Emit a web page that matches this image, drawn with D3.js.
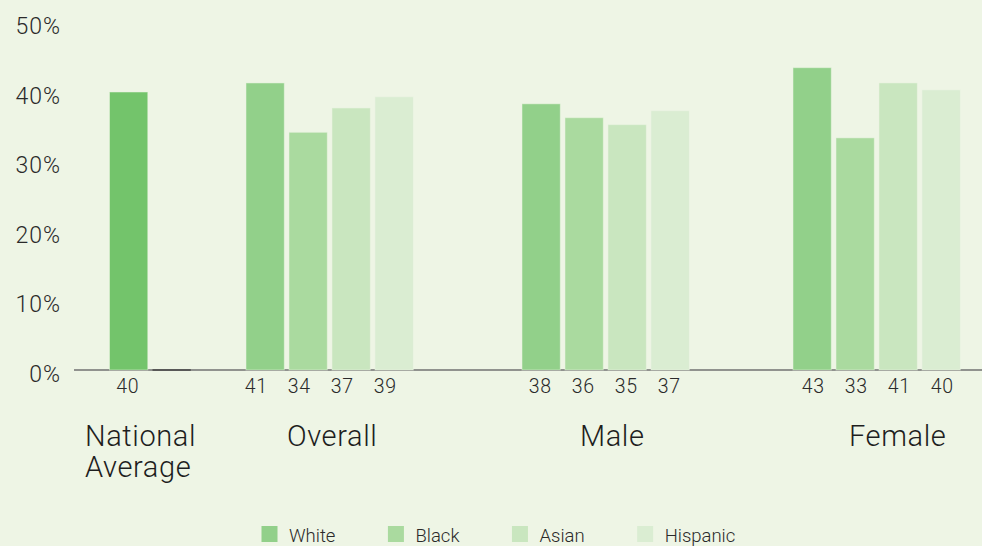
<!DOCTYPE html>
<html>
<head>
<meta charset="utf-8">
<script src="https://cdn.jsdelivr.net/npm/d3@7"></script>
<style>
  html, body { margin: 0; padding: 0; background: #eef5e5; }
  svg { display: block; }
  text { font-family: Roboto, "Liberation Sans", sans-serif; font-weight: 300; }
</style>
</head>
<body>
<svg id="chart" width="982" height="546"></svg>
<script>
// ---- data ----
const groups = ["National Average", "Overall", "Male", "Female"];
const series = ["White", "Black", "Asian", "Hispanic"];
// bar heights (percent)
const nationalValues = [40, 0];
const overallValues = [41.3, 34.2, 37.7, 39.3];
const maleValues = [38.3, 36.3, 35.3, 37.3];
const femaleValues = [43.5, 33.4, 41.3, 40.3];
// printed value labels
const nationalLabels = ["40"];
const overallLabels = ["41", "34", "37", "39"];
const maleLabels = ["38", "36", "35", "37"];
const femaleLabels = ["43", "33", "41", "40"];
const yTicks = [0, 10, 20, 30, 40, 50];

const groupValues = {
  "National Average": nationalValues,
  "Overall": overallValues,
  "Male": maleValues,
  "Female": femaleValues
};
const groupLabels = {
  "National Average": nationalLabels,
  "Overall": overallLabels,
  "Male": maleLabels,
  "Female": femaleLabels
};

const seriesColors = ["#92d08a", "#aada9f", "#c9e6bf", "#daedd2"];
const nationalColor = "#73c46b";

const svg = d3.select("#chart");
const W = 982, H = 546;
svg.append("rect").attr("width", W).attr("height", H).attr("fill", "#eef5e5");

const y = d3.scaleLinear().domain([0, 50]).range([370, 22.5]);
const groupX = d3.scaleOrdinal().domain(groups).range([109.5, 246, 522, 793]);
const labelX = d3.scaleOrdinal().domain(groups).range([85, 287, 580, 849]);
const valueShift = d3.scaleOrdinal().domain(groups).range([-1, -9, -1, 1]);
const inner = d3.scaleBand().domain([0, 1, 2, 3]).range([0, 167.3]).paddingInner(0.11).paddingOuter(0);

// y-axis labels
const yAxis = d3.axisLeft(y).tickValues(yTicks).tickFormat(d => d + "%").tickSize(0);
const gy = svg.append("g").attr("transform", "translate(60,0)").call(yAxis);
gy.select(".domain").remove();
gy.selectAll("text")
  .attr("x", 1).attr("dy", null).attr("y", 11)
  .style("font-size", "23px")
  .style("letter-spacing", "1px")
  .style("font-family", "Roboto, 'Liberation Sans', sans-serif")
  .style("font-weight", 300)
  .attr("fill", "#2a2a2a")
  .attr("text-anchor", "end");

// baseline
svg.append("line")
  .attr("x1", 74).attr("x2", W)
  .attr("y1", y(0)).attr("y2", y(0))
  .attr("stroke", "#707070").attr("stroke-width", 1.5);

// bars
groups.forEach(g => {
  const vals = groupValues[g];
  const labs = groupLabels[g];
  const gg = svg.append("g").attr("transform", `translate(${groupX(g)},0)`);
  vals.forEach((v, i) => {
    if (g === "National Average" && v === 0) {
      gg.append("rect")
        .attr("x", inner(i)).attr("y", y(0) - 1)
        .attr("width", inner.bandwidth()).attr("height", 2)
        .attr("fill", "#4a4a4a").attr("opacity", 0.8);
      return;
    }
    const fill = g === "National Average" ? nationalColor : seriesColors[i];
    gg.append("rect")
      .attr("x", inner(i)).attr("y", y(v))
      .attr("width", inner.bandwidth()).attr("height", y(0) - y(v))
      .attr("fill", fill)
      .attr("stroke", "#eef5e5").attr("stroke-opacity", 0.5).attr("stroke-width", 1);
    gg.append("text")
      .attr("x", inner(i) + inner.bandwidth() / 2 + valueShift(g))
      .attr("y", 393)
      .attr("text-anchor", "middle")
      .attr("fill", "#2a2a2a")
      .style("font-size", "19.5px")
      .style("letter-spacing", "0.5px")
      .text(labs[i]);
  });
});

// group labels
groups.forEach(g => {
  const words = g === "National Average" ? ["National", "Average"] : [g];
  const t = svg.append("text")
    .attr("x", labelX(g)).attr("y", 446)
    .attr("fill", "#1e1e1e")
    .style("font-size", "29px")
    .style("letter-spacing", "0.6px");
  words.forEach((w, i) => {
    t.append("tspan").attr("x", labelX(g)).attr("dy", i === 0 ? 0 : 31).text(w);
  });
});

// legend
const legend = svg.append("g");
let lx = 261.5;
series.forEach((s, i) => {
  legend.append("rect")
    .attr("x", lx).attr("y", 526)
    .attr("width", 16).attr("height", 16)
    .attr("fill", seriesColors[i]);
  const t = legend.append("text")
    .attr("x", lx + 27.5).attr("y", 542)
    .attr("fill", "#2a2a2a")
    .style("font-size", "18.5px")
    .text(s);
  const w = t.node().getComputedTextLength();
  lx = lx + 27.5 + w + 52.5;
});
</script>
</body>
</html>
